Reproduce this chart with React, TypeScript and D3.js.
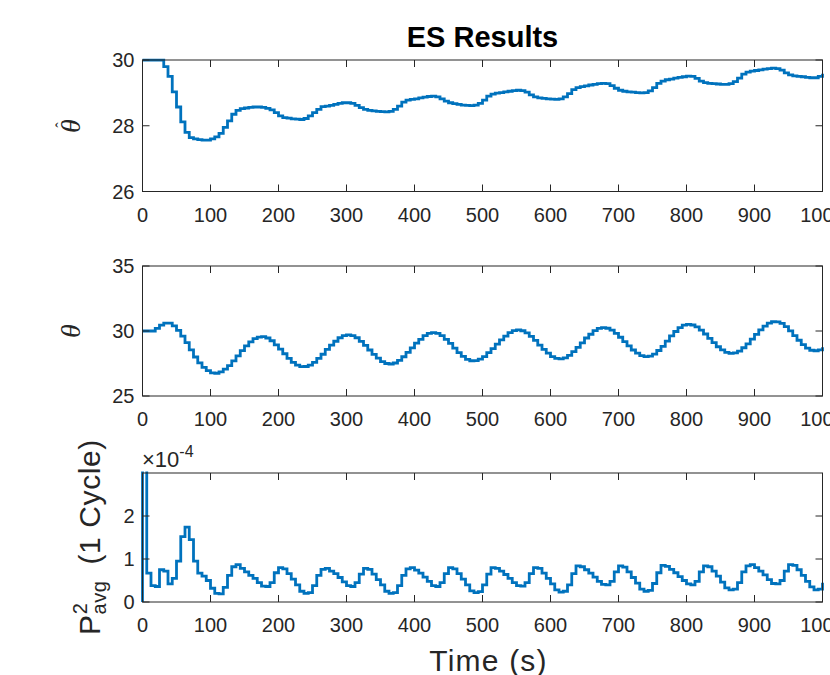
import React from 'react';
import * as d3 from 'd3';

// sample interval of the stairs (s)
const sampleStep = 6.25;

const thetaHat = [
  30, 30, 30, 30, 30, 29.8, 29.5, 29.03, 28.57, 28.12,
  27.8, 27.64, 27.6, 27.58, 27.56, 27.56, 27.6, 27.66, 27.77, 27.95,
  28.15, 28.35, 28.47, 28.52, 28.54, 28.56, 28.57, 28.57, 28.56, 28.53,
  28.48, 28.4, 28.3, 28.25, 28.23, 28.21, 28.2, 28.19, 28.22, 28.3,
  28.4, 28.5, 28.58, 28.6, 28.62, 28.65, 28.68, 28.7, 28.7, 28.68,
  28.62, 28.55, 28.5, 28.47, 28.45, 28.44, 28.43, 28.42, 28.44, 28.5,
  28.6, 28.72, 28.78, 28.8, 28.82, 28.85, 28.87, 28.89, 28.9, 28.88,
  28.82, 28.75, 28.7, 28.67, 28.65, 28.63, 28.62, 28.61, 28.63, 28.68,
  28.78, 28.9, 28.96, 28.99, 29.01, 29.03, 29.05, 29.07, 29.08, 29.07,
  29.02, 28.94, 28.88, 28.85, 28.83, 28.82, 28.81, 28.8, 28.82, 28.88,
  28.98, 29.1, 29.16, 29.19, 29.21, 29.24, 29.26, 29.28, 29.29, 29.28,
  29.22, 29.14, 29.08, 29.05, 29.03, 29.02, 29.01, 29.0, 29.01, 29.06,
  29.16, 29.29, 29.36, 29.4, 29.42, 29.45, 29.47, 29.49, 29.51, 29.5,
  29.44, 29.36, 29.31, 29.29, 29.28, 29.27, 29.26, 29.26, 29.28, 29.34,
  29.45, 29.57, 29.63, 29.66, 29.68, 29.7, 29.72, 29.74, 29.75, 29.74,
  29.69, 29.61, 29.55, 29.52, 29.5, 29.49, 29.47, 29.46, 29.46, 29.5,
  29.58,
];

const theta = [
  30, 30, 30, 30.2, 30.45, 30.6, 30.6, 30.4, 30.05, 29.6,
  29.1, 28.55, 28.0, 27.55, 27.2, 26.95, 26.78, 26.75, 26.85, 27.06,
  27.34, 27.7, 28.09, 28.49, 28.86, 29.17, 29.41, 29.53, 29.56, 29.46,
  29.25, 28.94, 28.6, 28.25, 27.9, 27.59, 27.37, 27.26, 27.27, 27.38,
  27.59, 27.9, 28.21, 28.58, 28.92, 29.21, 29.48, 29.65, 29.7, 29.64,
  29.48, 29.2, 28.89, 28.54, 28.2, 27.91, 27.64, 27.5, 27.46, 27.54,
  27.74, 28.02, 28.35, 28.7, 29.07, 29.36, 29.64, 29.81, 29.87, 29.81,
  29.64, 29.36, 29.05, 28.68, 28.34, 28.05, 27.82, 27.71, 27.72, 27.83,
  28.03, 28.33, 28.64, 28.99, 29.32, 29.6, 29.87, 30.03, 30.08, 30.02,
  29.86, 29.59, 29.28, 28.92, 28.59, 28.3, 28.03, 27.89, 27.85, 27.93,
  28.13, 28.41, 28.74, 29.09, 29.46, 29.75, 30.03, 30.2, 30.26, 30.21,
  30.06, 29.81, 29.52, 29.19, 28.86, 28.54, 28.3, 28.11, 28.03, 28.07,
  28.22, 28.5, 28.82, 29.22, 29.62, 29.96, 30.26, 30.45, 30.51, 30.46,
  30.31, 30.06, 29.77, 29.44, 29.11, 28.79, 28.55, 28.36, 28.28, 28.31,
  28.45, 28.71, 29.01, 29.37, 29.74, 30.09, 30.38, 30.6, 30.71, 30.7,
  30.58, 30.33, 30.01, 29.64, 29.29, 28.95, 28.68, 28.52, 28.48, 28.55,
  28.75,
];

// P^2 avg over one cycle, in units of 1e-4 (first sample is off the top)
const pAvg = [
  8, 0.67, 0.38, 0.36, 0.75, 0.72, 0.42, 0.55, 0.95, 1.52,
  1.74, 1.45, 0.95, 0.67, 0.6, 0.5, 0.32, 0.2, 0.19, 0.34,
  0.62, 0.82, 0.87, 0.78, 0.7, 0.62, 0.55, 0.45, 0.37, 0.36,
  0.45, 0.68, 0.8, 0.77, 0.66, 0.53, 0.4, 0.25, 0.2, 0.22,
  0.38, 0.62, 0.76, 0.78, 0.72, 0.66, 0.57, 0.47, 0.38, 0.36,
  0.45, 0.65, 0.78, 0.76, 0.65, 0.52, 0.4, 0.25, 0.2, 0.22,
  0.38, 0.62, 0.77, 0.8, 0.74, 0.67, 0.58, 0.48, 0.38, 0.36,
  0.45, 0.66, 0.8, 0.77, 0.66, 0.53, 0.4, 0.26, 0.22, 0.24,
  0.4, 0.65, 0.8, 0.78, 0.72, 0.64, 0.55, 0.45, 0.38, 0.37,
  0.45, 0.66, 0.8, 0.78, 0.67, 0.55, 0.42, 0.28, 0.23, 0.25,
  0.4, 0.66, 0.84, 0.82, 0.75, 0.67, 0.58, 0.48, 0.41, 0.4,
  0.48, 0.7, 0.84, 0.81, 0.7, 0.57, 0.44, 0.3, 0.25, 0.27,
  0.43, 0.68, 0.85, 0.83, 0.76, 0.68, 0.59, 0.5, 0.42, 0.4,
  0.48, 0.7, 0.84, 0.82, 0.72, 0.6, 0.46, 0.33, 0.28, 0.3,
  0.45, 0.7, 0.84, 0.87, 0.8, 0.72, 0.63, 0.52, 0.43, 0.42,
  0.5, 0.72, 0.87, 0.85, 0.75, 0.62, 0.48, 0.35, 0.28, 0.3,
  0.45,
];

const xTicks = [0, 100, 200, 300, 400, 500, 600, 700, 800, 900, 1000];
const thetaHatTicks = [26, 28, 30];
const thetaTicks = [25, 30, 35];
const pTicks = [0, 1, 2];

const W = 830;
const H = 675;
const axisColor = '#262626';
const lineColor = '#0072BD';
const font = '"Liberation Sans", Arial, Helvetica, sans-serif';
const serif = '"Liberation Serif", serif';
const tickLen = 7;

const xScale = d3.scaleLinear().domain([0, 1000]).range([142.5, 822.5]);

type PanelProps = {
  id: string;
  values: number[];
  domain: [number, number];
  ticks: number[];
  top: number;
  bottom: number;
  startAtZero?: boolean;
};

function Panel({ id, values, domain, ticks, top, bottom, startAtZero }: PanelProps) {
  const yScale = d3.scaleLinear().domain(domain).range([bottom, top]);
  const pts: [number, number][] = values.map((v, i) => [i * sampleStep, v]);
  if (startAtZero) pts.unshift([0, 0]);
  const line = d3
    .line<[number, number]>()
    .x(d => xScale(d[0]))
    .y(d => yScale(d[1]))
    .curve(d3.curveStepAfter);
  const [x0, x1] = xScale.range();

  return (
    <g>
      <defs>
        <clipPath id={id}>
          <rect x={x0 - 2} y={top - 1.5} width={x1 - x0 + 4} height={bottom - top + 3} />
        </clipPath>
      </defs>
      <path d={line(pts) || ''} fill="none" stroke={lineColor} strokeWidth={2.8} clipPath={`url(#${id})`} />
      <rect x={x0} y={top} width={x1 - x0} height={bottom - top} fill="none" stroke={axisColor} strokeWidth={1} />
      {xTicks.map(t => (
        <g key={`x${t}`}>
          <line x1={xScale(t)} x2={xScale(t)} y1={bottom} y2={bottom - tickLen} stroke={axisColor} />
          <line x1={xScale(t)} x2={xScale(t)} y1={top} y2={top + tickLen} stroke={axisColor} />
          <text x={xScale(t)} y={bottom + 30} textAnchor="middle" fontFamily={font} fontSize={20} fill={axisColor}>
            {t}
          </text>
        </g>
      ))}
      {ticks.map(t => (
        <g key={`y${t}`}>
          <line x1={x0} x2={x0 + tickLen} y1={yScale(t)} y2={yScale(t)} stroke={axisColor} />
          <line x1={x1} x2={x1 - tickLen} y1={yScale(t)} y2={yScale(t)} stroke={axisColor} />
          <text x={x0 - 8} y={yScale(t)} dy="0.36em" textAnchor="end" fontFamily={font} fontSize={20} fill={axisColor}>
            {t}
          </text>
        </g>
      ))}
    </g>
  );
}

export default function App() {
  const mid = (xScale.range()[0] + xScale.range()[1]) / 2;
  return (
    <svg width={W} height={H} style={{ position: 'absolute', left: 0, top: 0, background: '#fff' }}>
      <rect width={W} height={H} fill="#fff" />
      <text x={mid} y={47} textAnchor="middle" fontFamily={font} fontWeight="bold" fontSize={29} fill="#000">
        ES Results
      </text>

      <Panel id="c1" values={thetaHat} domain={[26, 30]} ticks={thetaHatTicks} top={60} bottom={191.5} />
      <Panel id="c2" values={theta} domain={[25, 35]} ticks={thetaTicks} top={266} bottom={396} />
      <Panel id="c3" values={pAvg} domain={[0, 3]} ticks={pTicks} top={473} bottom={602} startAtZero />

      {/* y labels */}
      <g transform="translate(80,126) rotate(-90)">
        <text x={0} y={0} textAnchor="middle" fontFamily={serif} fontStyle="italic" fontSize={28} fill={axisColor}>
          θ
        </text>
        <text x={1} y={-13} textAnchor="middle" fontFamily={serif} fontSize={16} fill={axisColor}>
          ˆ
        </text>
      </g>
      <g transform="translate(80,331) rotate(-90)">
        <text x={0} y={0} textAnchor="middle" fontFamily={serif} fontStyle="italic" fontSize={28} fill={axisColor}>
          θ
        </text>
      </g>
      <g transform="translate(100,537) rotate(-90)">
        <text x={0} y={0} textAnchor="middle" fontFamily={font} fontSize={30} letterSpacing={0.6} fill={axisColor}>
          P
          <tspan dy={-13} fontSize={20}>2</tspan>
          <tspan dx={-12} dy={19} fontSize={20}>avg</tspan>
          <tspan dx={16} dy={-6}>(1 Cycle)</tspan>
        </text>
      </g>

      {/* exponent */}
      <text x={142} y={467} fontFamily={font} fontSize={22} fill={axisColor}>
        ×10
        <tspan dy={-10} fontSize={16}>-4</tspan>
      </text>

      <text x={mid + 6} y={671} textAnchor="middle" fontFamily={font} fontSize={30} letterSpacing={1.2} fill={axisColor}>
        Time (s)
      </text>
    </svg>
  );
}
